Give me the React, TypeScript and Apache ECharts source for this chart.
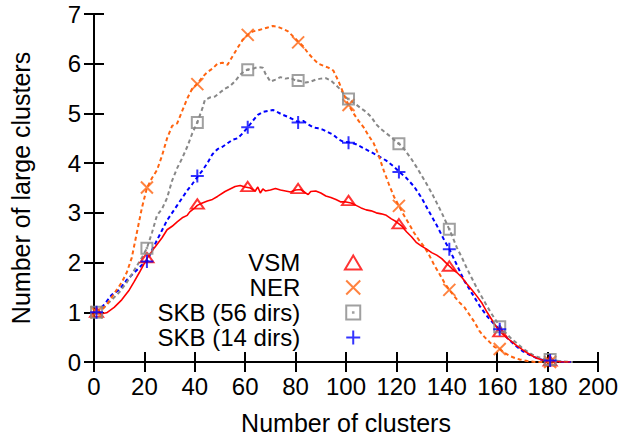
import React, { useEffect, useRef } from "react";
import * as echarts from "echarts";

// Tick labels
const xTicks = [0, 20, 40, 60, 80, 100, 120, 140, 160, 180, 200];
const yTicks = [0, 1, 2, 3, 4, 5, 6, 7];

// Marker positions (every 20 clusters, starting at 1)
const markerX = [1, 21, 41, 61, 81, 101, 121, 141, 161, 181];
const vsmMarkers = [1.0, 2.1, 3.18, 3.53, 3.49, 3.25, 2.78, 1.93, 0.61, 0.02];
const nerMarkers = [1.0, 3.51, 5.59, 6.58, 6.43, 5.17, 3.14, 1.45, 0.26, 0.0];
const skb56Markers = [1.0, 2.29, 4.82, 5.88, 5.66, 5.29, 4.39, 2.67, 0.71, 0.05];
const skb14Markers = [1.0, 2.02, 3.74, 4.72, 4.82, 4.41, 3.82, 2.27, 0.66, 0.03];

// Dense curves
const vsmX = [1, 3, 5, 8, 11, 14, 16, 18, 21, 24, 27, 29, 31, 33, 35, 37, 38, 40, 41, 43, 45, 47, 49, 52, 54, 56, 58, 60, 62, 64, 65, 66, 67, 68, 70, 72, 74, 76, 78, 80, 82, 84, 85, 86, 88, 90, 92, 94, 96, 98, 100, 102, 104, 106, 108, 110, 112, 114, 116, 118, 120, 122, 124, 126, 128, 130, 132, 134, 136, 138, 140, 142, 144, 146, 148, 150, 152, 154, 156, 158, 160, 162, 164, 166, 168, 170, 172, 174, 176, 178, 180, 183, 186, 189];
const vsmY = [1.0, 0.97, 0.99, 1.1, 1.25, 1.45, 1.62, 1.8, 2.08, 2.3, 2.5, 2.66, 2.73, 2.82, 2.9, 2.95, 3.02, 3.1, 3.15, 3.2, 3.24, 3.27, 3.33, 3.43, 3.48, 3.53, 3.55, 3.52, 3.5, 3.44, 3.52, 3.4, 3.48, 3.44, 3.46, 3.49, 3.46, 3.44, 3.42, 3.46, 3.47, 3.4, 3.37, 3.43, 3.44, 3.4, 3.34, 3.31, 3.27, 3.22, 3.22, 3.2, 3.15, 3.1, 3.06, 3.04, 3.0, 2.98, 2.95, 2.88, 2.82, 2.74, 2.62, 2.52, 2.4, 2.33, 2.27, 2.2, 2.15, 2.08, 1.98, 1.88, 1.8, 1.7, 1.57, 1.45, 1.32, 1.18, 1.0, 0.84, 0.68, 0.57, 0.48, 0.4, 0.32, 0.25, 0.18, 0.12, 0.07, 0.04, 0.02, 0.01, 0.0, 0.0];

const nerX = [1, 3, 5, 7, 9, 11, 13, 15, 17, 19, 21, 23, 25, 27, 29, 31, 33, 35, 37, 39, 41, 43, 45, 47, 49, 51, 53, 55, 57, 59, 61, 63, 65, 67, 69, 71, 73, 75, 77, 79, 81, 83, 85, 87, 89, 91, 93, 95, 97, 99, 101, 103, 105, 107, 109, 111, 113, 115, 117, 119, 121, 123, 125, 127, 129, 131, 133, 135, 137, 139, 141, 143, 145, 147, 149, 151, 153, 155, 157, 159, 161, 163, 165, 167, 169, 172, 175, 180, 185];
const nerY = [1.0, 1.04, 1.15, 1.3, 1.45, 1.6, 1.8, 2.1, 2.6, 3.1, 3.5, 3.7, 3.86, 4.15, 4.5, 4.75, 4.8, 5.05, 5.3, 5.5, 5.6, 5.73, 5.83, 5.9, 6.0, 6.02, 5.98, 6.15, 6.32, 6.48, 6.58, 6.65, 6.67, 6.7, 6.73, 6.76, 6.74, 6.7, 6.65, 6.55, 6.45, 6.35, 6.21, 6.1, 6.0, 5.96, 5.92, 5.86, 5.65, 5.4, 5.17, 5.0, 4.85, 4.72, 4.55, 4.4, 4.15, 3.85, 3.58, 3.33, 3.14, 2.95, 2.78, 2.6, 2.45, 2.32, 2.15, 1.95, 1.78, 1.6, 1.45, 1.32, 1.2, 1.1, 0.95, 0.8, 0.62, 0.5, 0.4, 0.3, 0.26, 0.18, 0.12, 0.08, 0.05, 0.02, 0.0, 0.0, 0.0];

const skb56X = [1, 4, 7, 10, 13, 16, 19, 21, 23, 25, 27, 29, 31, 33, 35, 37, 39, 41, 43, 44, 46, 48, 50, 52, 54, 56, 58, 60, 61, 63, 65, 67, 68, 70, 72, 74, 76, 78, 80, 82, 84, 86, 88, 90, 92, 94, 96, 98, 100, 102, 104, 106, 108, 110, 112, 114, 116, 118, 120, 122, 124, 126, 128, 130, 132, 134, 136, 138, 140, 142, 144, 146, 148, 150, 152, 154, 156, 158, 160, 162, 164, 166, 168, 170, 172, 174, 176, 178, 180, 183, 186, 190];
const skb56Y = [1.0, 1.1, 1.25, 1.4, 1.6, 1.85, 2.1, 2.29, 2.6, 2.95, 3.08, 3.3, 3.65, 3.9, 4.1, 4.33, 4.6, 4.82, 5.1, 5.27, 5.32, 5.34, 5.42, 5.5, 5.55, 5.65, 5.78, 5.86, 5.88, 5.9, 5.93, 5.92, 5.8, 5.64, 5.68, 5.73, 5.7, 5.72, 5.66, 5.65, 5.62, 5.64, 5.68, 5.7, 5.71, 5.66, 5.57, 5.47, 5.32, 5.25, 5.18, 5.1, 5.03, 4.93, 4.78, 4.68, 4.6, 4.52, 4.43, 4.35, 4.22, 4.08, 3.92, 3.75, 3.58, 3.4, 3.2, 3.0, 2.78, 2.55, 2.3, 2.1, 1.88, 1.68, 1.48, 1.3, 1.12, 0.95, 0.8, 0.66, 0.55, 0.45, 0.37, 0.28, 0.21, 0.15, 0.1, 0.07, 0.05, 0.03, 0.01, 0.0];

const skb14X = [1, 4, 7, 10, 13, 16, 19, 21, 23, 25, 27, 29, 31, 33, 35, 37, 39, 41, 43, 45, 47, 49, 51, 53, 55, 57, 59, 61, 63, 65, 67, 69, 71, 73, 75, 77, 79, 81, 83, 85, 87, 89, 91, 93, 95, 97, 99, 101, 104, 107, 110, 113, 116, 119, 121, 124, 127, 130, 133, 136, 139, 141, 144, 147, 150, 153, 156, 159, 161, 164, 167, 170, 173, 176, 179, 182, 186, 190];
const skb14Y = [1.0, 1.15, 1.35, 1.45, 1.65, 1.8, 1.95, 2.02, 2.25, 2.45, 2.65, 2.85, 3.0, 3.15, 3.3, 3.45, 3.58, 3.72, 3.85, 4.0, 4.18, 4.28, 4.33, 4.4, 4.47, 4.5, 4.6, 4.72, 4.85, 4.97, 5.03, 5.05, 5.07, 5.02, 4.97, 4.93, 4.88, 4.83, 4.85, 4.78, 4.72, 4.7, 4.67, 4.62, 4.57, 4.48, 4.43, 4.42, 4.38, 4.3, 4.22, 4.14, 4.05, 3.93, 3.83, 3.7, 3.53, 3.3, 3.02, 2.75, 2.45, 2.27, 1.95, 1.63, 1.38, 1.13, 0.92, 0.75, 0.66, 0.48, 0.34, 0.22, 0.14, 0.07, 0.03, 0.02, 0.0, 0.0];

const seriesNames = ["VSM", "NER", "SKB (56 dirs)", "SKB (14 dirs)"];
const colors = ["#ff0000", "#ff6410", "#888888", "#0000ff"];

const FONT = "Liberation Sans, Arial, Helvetica, sans-serif";

const zip = (xs: number[], ys: number[]) => xs.map((x, i) => [x, ys[i]]);

const symTriangle = "path://M6.5,0L13,11L0,11Z";
const symCross = "path://M0,0L10,10M10,0L0,10";
const symSquare = "path://M0,0H10V10H0Z M4.8,4.8H5.2V5.2H4.8Z";
const symPlus = "path://M5,0V10M0,5H10";

export default function App() {
  const ref = useRef<HTMLDivElement>(null);

  useEffect(() => {
    if (!ref.current) return;
    const chart = echarts.init(ref.current, undefined, { renderer: "svg" });

    const lines = [
      { x: vsmX, y: vsmY, dash: "solid" as any },
      { x: nerX, y: nerY, dash: [4, 3] },
      { x: skb56X, y: skb56Y, dash: [4, 3] },
      { x: skb14X, y: skb14Y, dash: [4, 3] },
    ];
    const markers = [
      { y: vsmMarkers, sym: symTriangle, size: [13, 11] },
      { y: nerMarkers, sym: symCross, size: 12 },
      { y: skb56Markers, sym: symSquare, size: 11 },
      { y: skb14Markers, sym: symPlus, size: 13 },
    ];

    const series: any[] = [];
    lines.forEach((l, i) => {
      series.push({
        name: seriesNames[i] + " curve",
        type: "line",
        data: zip(l.x, l.y),
        showSymbol: false,
        symbol: "none",
        smooth: false,
        lineStyle: { color: colors[i], width: i === 0 ? 1.6 : 2, type: l.dash },
        z: 2 + (3 - i),
        silent: true,
      });
    });
    markers.forEach((m, i) => {
      series.push({
        name: seriesNames[i],
        type: "scatter",
        data: zip(markerX, m.y),
        symbol: m.sym,
        symbolSize: m.size,
        symbolKeepAspect: true,
        itemStyle: { color: "none", borderColor: colors[i], borderWidth: 2 },
        z: 10,
      });
    });

    const axisText = { fontFamily: FONT, fontSize: 24, color: "#000" };
    const titleText = { fontFamily: FONT, fontSize: 25, color: "#000" };

    chart.setOption({
      animation: false,
      backgroundColor: "#fff",
      grid: { left: 92, right: 26, top: 14, bottom: 78, show: false },
      legend: {
        data: seriesNames,
        orient: "vertical",
        align: "right",
        right: 260,
        top: 250,
        padding: 0,
        itemGap: 0,
        itemWidth: 96,
        itemHeight: 14,
        symbolKeepAspect: true,
        selectedMode: false,
        textStyle: { ...axisText, lineHeight: 25 },
      },
      xAxis: [
        {
          type: "value",
          min: xTicks[0],
          max: xTicks[xTicks.length - 1],
          interval: 20,
          position: "bottom",
          name: "Number of clusters",
          nameLocation: "middle",
          nameGap: 48,
          nameTextStyle: titleText,
          axisLine: { show: true, lineStyle: { color: "#000", width: 2 } },
          axisTick: { show: true, inside: true, length: 10, lineStyle: { color: "#000", width: 2 } },
          axisLabel: { ...axisText, margin: 12 },
          splitLine: { show: false },
        },
        {
          type: "value",
          min: xTicks[0],
          max: xTicks[xTicks.length - 1],
          interval: 20,
          position: "top",
          axisLine: { show: true, lineStyle: { color: "#000", width: 2 } },
          axisTick: { show: true, inside: true, length: 10, lineStyle: { color: "#000", width: 2 } },
          axisLabel: { show: false },
          splitLine: { show: false },
        },
      ],
      yAxis: [
        {
          type: "value",
          min: yTicks[0],
          max: yTicks[yTicks.length - 1],
          interval: 1,
          position: "left",
          name: "Number of large clusters",
          nameLocation: "middle",
          nameGap: 61,
          nameTextStyle: titleText,
          axisLine: { show: true, lineStyle: { color: "#000", width: 2 } },
          axisTick: { show: true, inside: true, length: 10, lineStyle: { color: "#000", width: 2 } },
          axisLabel: { ...axisText, margin: 13 },
          splitLine: { show: false },
        },
        {
          type: "value",
          min: yTicks[0],
          max: yTicks[yTicks.length - 1],
          interval: 1,
          position: "right",
          axisLine: { show: true, lineStyle: { color: "#000", width: 2 } },
          axisTick: { show: true, inside: true, length: 10, lineStyle: { color: "#000", width: 2 } },
          axisLabel: { show: false },
          splitLine: { show: false },
        },
      ],
      series,
    });

    return () => chart.dispose();
  }, []);

  return (
    <div
      ref={ref}
      style={{ position: "fixed", left: 0, top: 0, width: 624, height: 440, background: "#fff" }}
    />
  );
}
